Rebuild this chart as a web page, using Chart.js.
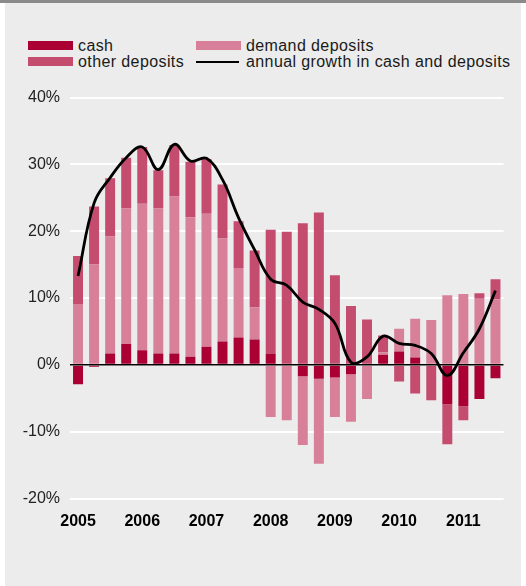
<!DOCTYPE html>
<html>
<head>
<meta charset="utf-8">
<script src="https://cdn.jsdelivr.net/npm/chart.js@4.4.1/dist/chart.umd.min.js"></script>
<style>
  html, body { margin: 0; padding: 0; background: #fff; }
  body { width: 526px; height: 586px; position: relative; overflow: hidden; font-family: "Liberation Sans", Arial, sans-serif; }
  #topbar { position: absolute; left: 0; top: 0; width: 526px; height: 3px; background: #8a8a8a; }
  #painel { position: absolute; left: 5px; top: 3px; width: 516px; height: 583px; background: #ebeceb; }
  #legenda { position: absolute; left: 0; top: 0; }
  .item { position: absolute; font-size: 16px; letter-spacing: 0.4px; color: #1a1a1a; line-height: 16px; white-space: nowrap; }
  .item .amostra { position: absolute; top: 3px; height: 9px; }
  .item .linha { position: absolute; top: 6.5px; height: 2.5px; background: #000; }
  #caixa { position: absolute; left: 0; top: 0; width: 526px; height: 586px; }
</style>
</head>
<body>
<div id="topbar"></div>
<div id="painel"></div>
<div id="legenda"></div>
<div id="caixa"><canvas id="grafico"></canvas></div>
<script>
// --- DADOS ---
const trimestres = [
  '2005 T1', '2005 T2', '2005 T3', '2005 T4',
  '2006 T1', '2006 T2', '2006 T3', '2006 T4',
  '2007 T1', '2007 T2', '2007 T3', '2007 T4',
  '2008 T1', '2008 T2', '2008 T3', '2008 T4',
  '2009 T1', '2009 T2', '2009 T3', '2009 T4',
  '2010 T1', '2010 T2', '2010 T3', '2010 T4',
  '2011 T1', '2011 T2', '2011 T3'
];
const anos = ['2005', '2006', '2007', '2008', '2009', '2010', '2011'];

const cash = [-2.9, -0.3, 1.7, 3.1, 2.2, 1.7, 1.7, 1.2, 2.7, 3.5, 4.1, 3.8, 1.7, 0, -1.7, -2.1, -1.9, -1.4, 0, 1.5, 2.0, 1.1, 0, -5.9, -6.2, -5.1, -2.0];
const demandDeposits = [9.1, 15.0, 17.5, 20.3, 21.9, 21.7, 23.5, 20.9, 19.9, 15.4, 10.4, 4.8, -7.8, -8.3, -10.3, -12.7, -5.9, -7.1, -5.1, 0.4, 3.4, 5.8, 6.7, 10.4, 10.6, 9.9, 9.8];
const otherDeposits = [7.2, 8.7, 8.7, 7.6, 8.5, 5.7, 7.7, 8.3, 8.2, 8.1, 7.0, 8.5, 18.5, 19.9, 21.2, 22.8, 13.4, 8.8, 6.8, 2.5, -2.5, -4.3, -5.3, -6.0, -2.1, 0.8, 3.0];
const crescimentoAnual = [13.3, 24.2, 28.0, 31.0, 32.6, 29.2, 33.0, 30.5, 30.9, 27.7, 22.0, 17.2, 12.8, 11.9, 9.4, 8.3, 6.2, 0.4, 1.2, 4.3, 3.2, 2.9, 1.7, -1.6, 1.8, 5.4, 11.1];

const COR_CASH = '#aa0034';
const COR_DEMAND = '#d8809a';
const COR_OTHER = '#c44c6f';

// rótulo só no primeiro trimestre de cada ano
function rotuloAno(indice) {
    const t = trimestres[indice];
    return t.endsWith('T1') && anos.includes(t.slice(0, 4)) ? t.slice(0, 4) : '';
}

// --- LEGENDA (duas colunas, como no original) ---
function montarLegenda() {
    const itens = [
        { texto: 'cash', cor: COR_CASH, x: 28, y: 38 },
        { texto: 'demand deposits', cor: COR_DEMAND, x: 196, y: 38 },
        { texto: 'other deposits', cor: COR_OTHER, x: 28, y: 54 },
        { texto: 'annual growth in cash and deposits', cor: null, x: 196, y: 54 }
    ];
    const caixa = document.getElementById('legenda');
    itens.forEach(item => {
        const div = document.createElement('div');
        div.className = 'item';
        div.style.left = item.x + 'px';
        div.style.top = item.y + 'px';
        const marca = document.createElement('span');
        if (item.cor) {
            marca.className = 'amostra';
            marca.style.background = item.cor;
            marca.style.width = '45px';
        } else {
            marca.className = 'linha';
            marca.style.width = '43px';
        }
        marca.style.left = '0px';
        div.appendChild(marca);
        const txt = document.createElement('span');
        txt.textContent = item.texto;
        txt.style.marginLeft = '50px';
        div.appendChild(txt);
        caixa.appendChild(div);
    });
}

// linha do zero por cima das barras
const linhaZero = {
    id: 'linhaZero',
    afterDatasetsDraw(chart) {
        const { ctx, chartArea, scales } = chart;
        const y = scales.y.getPixelForValue(0);
        ctx.save();
        ctx.strokeStyle = '#000';
        ctx.lineWidth = 1.5;
        ctx.beginPath();
        ctx.moveTo(chartArea.left, y);
        ctx.lineTo(chartArea.right, y);
        ctx.stroke();
        ctx.restore();
    }
};

function renderizarGrafico() {
    const ctx = document.getElementById('grafico').getContext('2d');
    const fonte = '"Liberation Sans", Arial, sans-serif';

    new Chart(ctx, {
        type: 'bar',
        data: {
            labels: trimestres,
            datasets: [
                {
                    type: 'line',
                    label: 'annual growth in cash and deposits',
                    data: crescimentoAnual,
                    borderColor: '#000',
                    borderWidth: 2.8,
                    pointRadius: 0,
                    tension: 0.4,
                    fill: false,
                    order: 0
                },
                { label: 'cash', data: cash, backgroundColor: COR_CASH, stack: 'a', order: 1 },
                { label: 'demand deposits', data: demandDeposits, backgroundColor: COR_DEMAND, stack: 'a', order: 1 },
                { label: 'other deposits', data: otherDeposits, backgroundColor: COR_OTHER, stack: 'a', order: 1 }
            ]
        },
        options: {
            responsive: true,
            maintainAspectRatio: false,
            animation: false,
            datasets: {
                bar: { barPercentage: 0.62, categoryPercentage: 1 }
            },
            layout: {
                padding: { top: 97.5, left: 0, right: 22.5, bottom: 0 }
            },
            plugins: {
                legend: { display: false },
                tooltip: { enabled: false }
            },
            scales: {
                x: {
                    stacked: true,
                    afterFit: escala => { escala.height = 87.5; },
                    grid: { display: false, drawTicks: false },
                    border: { display: false },
                    ticks: {
                        autoSkip: false,
                        maxRotation: 0,
                        padding: 13,
                        color: '#000',
                        font: { family: fonte, size: 16, weight: 'bold' },
                        callback: (valor, indice) => rotuloAno(indice)
                    }
                },
                y: {
                    stacked: true,
                    min: -20,
                    max: 40,
                    afterFit: escala => { escala.width = 70; },
                    grid: {
                        color: '#ffffff',
                        lineWidth: 2,
                        drawTicks: false
                    },
                    border: { display: false },
                    ticks: {
                        stepSize: 10,
                        padding: 10,
                        color: '#222',
                        font: { family: fonte, size: 16 },
                        callback: v => v + '%'
                    }
                }
            }
        },
        plugins: [linhaZero]
    });
}

document.addEventListener('DOMContentLoaded', () => {
    montarLegenda();
    renderizarGrafico();
});
</script>
</body>
</html>
